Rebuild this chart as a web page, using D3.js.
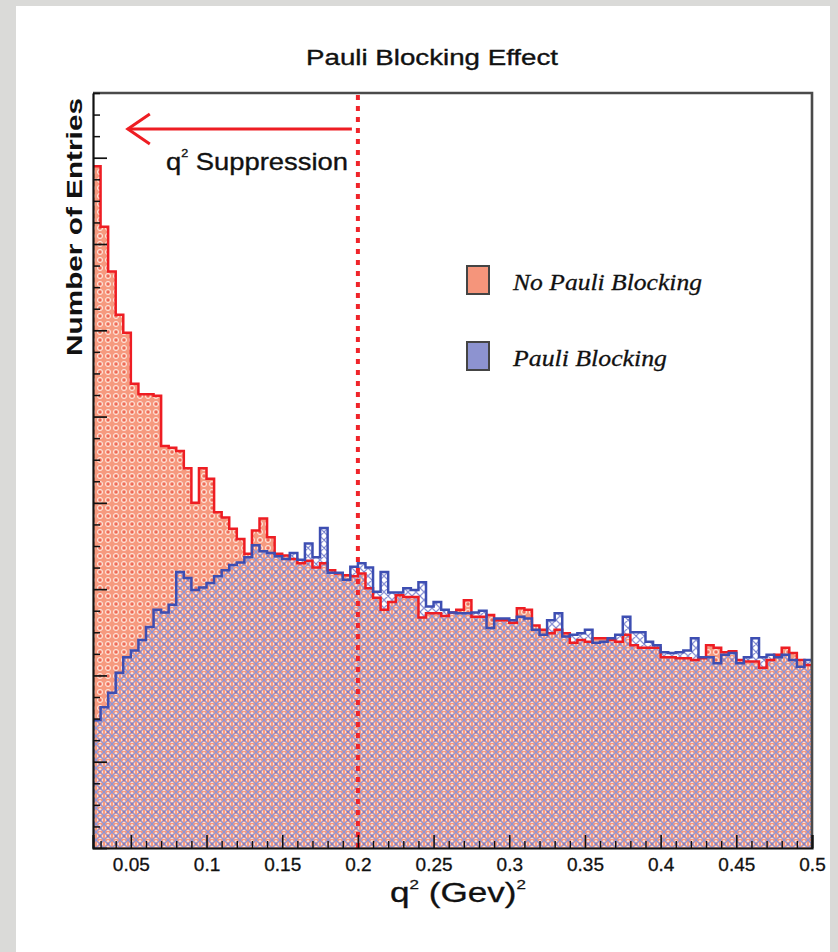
<!DOCTYPE html>
<html>
<head>
<meta charset="utf-8">
<script src="https://cdn.jsdelivr.net/npm/d3@7"></script>
<style>
  html, body { margin: 0; padding: 0; background: #dadad8; }
  svg { display: block; }
</style>
</head>
<body>
<svg id="chart" width="838" height="952"></svg>
<script>
// Histogram binning: 95 bins of width 0.005 from q^2 = 0.025 to 0.5
const binStart = 0.025;
const binWidth = 0.005;

// Entries per bin without Pauli blocking
const noPauliBlocking = [
  790, 720, 668, 618, 597, 538, 526, 526, 524, 466,
  464, 460, 440, 400, 440, 428, 389, 383, 370, 358,
  341, 368, 382, 360, 341, 339, 335, 330, 333, 325,
  330, 322, 318, 316, 315, 318, 301, 290, 276, 285,
  293, 291, 291, 267, 272, 272, 269, 273, 276, 287,
  268, 268, 270, 264, 264, 261, 278, 276, 258, 253,
  249, 253, 249, 238, 241, 239, 243, 243, 241, 239,
  247, 235, 232, 232, 232, 221, 221, 220, 220, 218,
  220, 235, 232, 227, 228, 218, 216, 216, 209, 218,
  224, 232, 226, 218, 212
];

// Entries per bin with Pauli blocking
const pauliBlocking = [
  148, 163, 180, 203, 221, 229, 241, 256, 276, 273,
  282, 320, 313, 299, 302, 307, 315, 322, 328, 331,
  337, 351, 344, 342, 338, 335, 342, 334, 353, 337,
  371, 319, 319, 311, 326, 330, 325, 297, 320, 296,
  296, 301, 299, 308, 280, 285, 276, 273, 272, 272,
  273, 275, 255, 266, 266, 264, 268, 266, 253, 247,
  264, 272, 245, 247, 249, 253, 238, 239, 243, 247,
  268, 250, 250, 239, 235, 227, 226, 227, 229, 243,
  221, 221, 214, 224, 226, 214, 221, 243, 221, 224,
  221, 224, 218, 210, 218
];

const xTickValues = [0.05, 0.1, 0.15, 0.2, 0.25, 0.3, 0.35, 0.4, 0.45, 0.5];
const xTickLabels = ["0.05", "0.1", "0.15", "0.2", "0.25", "0.3", "0.35", "0.4", "0.45", "0.5"];
const xDomain = [0.025, 0.5];
const yDomain = [0, 875];
const cutValue = 0.2;
const arrowEnd = 0.048;

const legendItems = [
  { label: "No Pauli Blocking", key: "red" },
  { label: "Pauli Blocking", key: "blue" }
];

const svg = d3.select("#chart");
const W = 838, H = 952;
const plot = { left: 93, right: 812, top: 93, bottom: 848 };

const colors = {
  redFill: "#f69a7f",
  redLine: "#ee1d23",
  redDot: "#e3262b",
  blueHatch: "#8e96d6",
  blueLine: "#3d4eb2",
  frame: "#4a4a4a"
};

// page background and white card
svg.append("rect").attr("width", W).attr("height", H).attr("fill", "#dadad8");
svg.append("rect").attr("x", 16).attr("y", 6).attr("width", 814).attr("height", 946).attr("fill", "#ffffff");

// fill patterns
const defs = svg.append("defs");
const rp = defs.append("pattern").attr("id", "redPat")
  .attr("patternUnits", "userSpaceOnUse").attr("width", 8).attr("height", 8);
rp.append("rect").attr("width", 8).attr("height", 8).attr("fill", colors.redFill);
rp.append("circle").attr("cx", 4).attr("cy", 4).attr("r", 2.6)
  .attr("fill", "none").attr("stroke", "#ffffff").attr("stroke-width", 0.9).attr("stroke-opacity", 0.8);
rp.append("rect").attr("x", 3.4).attr("y", 3.4).attr("width", 1.3).attr("height", 1.3).attr("fill", colors.redDot);

const bp = defs.append("pattern").attr("id", "bluePat")
  .attr("patternUnits", "userSpaceOnUse").attr("width", 8).attr("height", 8);
bp.append("path").attr("d", "M0,0 L8,8 M8,0 L0,8 M-1,7 L1,9 M7,-1 L9,1 M-1,1 L1,-1 M7,9 L9,7")
  .attr("stroke", colors.blueHatch).attr("stroke-width", 1.3).attr("fill", "none");
bp.append("rect").attr("x", 3.5).attr("y", 3.5).attr("width", 1).attr("height", 1).attr("fill", "#3d4eb2");
bp.append("rect").attr("x", 3.3).attr("y", 0).attr("width", 1.4).attr("height", 1).attr("fill", "#ffffff").attr("opacity", 0.8);

defs.append("clipPath").attr("id", "plotClip").append("rect")
  .attr("x", plot.left).attr("y", plot.top)
  .attr("width", plot.right - plot.left).attr("height", plot.bottom - plot.top);

// scales
const x = d3.scaleLinear().domain(xDomain).range([plot.left, plot.right]);
const y = d3.scaleLinear().domain(yDomain).range([plot.bottom, plot.top]);

function steps(values) {
  const pts = values.map((v, i) => ({ x: binStart + i * binWidth, v }));
  pts.push({ x: binStart + values.length * binWidth, v: values[values.length - 1] });
  return pts;
}

const area = d3.area().curve(d3.curveStepAfter)
  .x(d => x(d.x)).y0(y(0)).y1(d => y(d.v));
const line = d3.line().curve(d3.curveStepAfter)
  .x(d => x(d.x)).y(d => y(d.v));

const g = svg.append("g").attr("clip-path", "url(#plotClip)");
const redSteps = steps(noPauliBlocking);
const blueSteps = steps(pauliBlocking);

g.append("path").datum(redSteps).attr("d", area).attr("fill", "url(#redPat)");
g.append("path").datum(blueSteps).attr("d", area).attr("fill", "url(#bluePat)");
g.append("path").datum(redSteps).attr("d", line)
  .attr("fill", "none").attr("stroke", colors.redLine).attr("stroke-width", 2.5);
g.append("path").datum(blueSteps).attr("d", line)
  .attr("fill", "none").attr("stroke", colors.blueLine).attr("stroke-width", 2.5);

// cut line at q^2 = 0.2
svg.append("line")
  .attr("x1", x(cutValue)).attr("x2", x(cutValue))
  .attr("y1", plot.top + 2).attr("y2", plot.bottom)
  .attr("stroke", "#f0242a").attr("stroke-width", 4)
  .attr("stroke-dasharray", "5,6");

// frame: top and right
svg.append("path")
  .attr("d", `M${plot.left},${plot.top}H${plot.right}V${plot.bottom}`)
  .attr("fill", "none").attr("stroke", colors.frame).attr("stroke-width", 2.6);

// x axis with inward ticks
const xMinor = d3.range(0.03, 0.5001, 0.01).filter(v => !xTickValues.some(t => Math.abs(t - v) < 1e-6));
const xAxisG = svg.append("g").attr("transform", `translate(0,${plot.bottom})`);
xAxisG.call(d3.axisBottom(x).tickValues(xMinor).tickSize(-7).tickFormat(""))
  .call(s => s.select(".domain").remove());
xAxisG.selectAll(".tick line").attr("stroke", "#111").attr("stroke-width", 1.4);
const xMajorG = svg.append("g").attr("transform", `translate(0,${plot.bottom})`)
  .call(d3.axisBottom(x).tickValues(xTickValues).tickSize(-13).tickPadding(23)
    .tickFormat((d, i) => xTickLabels[i]));
xMajorG.select(".domain").attr("stroke", "#111").attr("stroke-width", 2.2);
xMajorG.selectAll(".tick line").attr("stroke", "#111").attr("stroke-width", 1.6);
xMajorG.selectAll(".tick text")
  .attr("font-family", "Liberation Sans, Arial, sans-serif")
  .attr("font-size", 19).attr("fill", "#111").attr("stroke", "#111").attr("stroke-width", 0.3)
  .attr("dy", "0");

// y axis with inward ticks, no labels
const yMinor = d3.range(0, 875.1, 25).filter(v => v % 100 !== 0);
const yMajor = d3.range(0, 875.1, 100);
const yMinorG = svg.append("g").attr("transform", `translate(${plot.left},0)`)
  .call(d3.axisRight(y).tickValues(yMinor).tickSize(7).tickFormat(""));
yMinorG.select(".domain").remove();
yMinorG.selectAll(".tick line").attr("stroke", "#111").attr("stroke-width", 1.5);
const yMajorG = svg.append("g").attr("transform", `translate(${plot.left},0)`)
  .call(d3.axisRight(y).tickValues(yMajor).tickSize(14).tickFormat("").tickSizeOuter(0));
yMajorG.select(".domain").attr("stroke", "#111").attr("stroke-width", 2.2);
yMajorG.selectAll(".tick line").attr("stroke", "#111").attr("stroke-width", 1.7);

// title
svg.append("text").attr("x", 432).attr("y", 65).attr("text-anchor", "middle")
  .attr("font-family", "Liberation Sans, Arial, sans-serif").attr("font-size", 22)
  .attr("fill", "#111").attr("stroke", "#111").attr("stroke-width", 0.35)
  .attr("textLength", 252).attr("lengthAdjust", "spacingAndGlyphs")
  .text("Pauli Blocking Effect");

// y axis title
svg.append("text")
  .attr("transform", `translate(82,227) rotate(-90)`)
  .attr("text-anchor", "middle")
  .attr("font-family", "Liberation Sans, Arial, sans-serif").attr("font-size", 22)
  .attr("font-weight", "bold").attr("fill", "#111")
  .attr("textLength", 258).attr("lengthAdjust", "spacingAndGlyphs")
  .text("Number of  Entries");

// x axis title
const xt = svg.append("text").attr("x", 458).attr("y", 902).attr("text-anchor", "middle")
  .attr("font-family", "Liberation Sans, Arial, sans-serif").attr("font-size", 27)
  .attr("fill", "#111").attr("stroke", "#111").attr("stroke-width", 0.3)
  .attr("textLength", 136).attr("lengthAdjust", "spacingAndGlyphs");
xt.append("tspan").text("q");
xt.append("tspan").attr("font-size", 13).attr("dy", -13).text("2");
xt.append("tspan").attr("dy", 13).text(" (Gev)");
xt.append("tspan").attr("font-size", 13).attr("dy", -13).text("2");

// suppression arrow
const arrowY = 129;
const tipX = x(arrowEnd);
svg.append("line").attr("x1", x(cutValue) - 6).attr("x2", tipX).attr("y1", arrowY).attr("y2", arrowY)
  .attr("stroke", colors.redLine).attr("stroke-width", 3);
svg.append("path")
  .attr("d", `M${tipX + 22},${arrowY - 15} L${tipX},${arrowY} L${tipX + 22},${arrowY + 15}`)
  .attr("fill", "none").attr("stroke", colors.redLine).attr("stroke-width", 3);

const st = svg.append("text").attr("x", 166).attr("y", 170)
  .attr("font-family", "Liberation Sans, Arial, sans-serif").attr("font-size", 24)
  .attr("fill", "#111").attr("stroke", "#111").attr("stroke-width", 0.35)
  .attr("textLength", 182).attr("lengthAdjust", "spacingAndGlyphs");
st.append("tspan").text("q");
st.append("tspan").attr("font-size", 11).attr("dy", -13).text("2");
st.append("tspan").attr("dy", 13).text(" Suppression");

// legend
const legend = svg.append("g");
legendItems.forEach((d, i) => {
  const ly = 266 + i * 76;
  legend.append("rect").attr("x", 467).attr("y", ly).attr("width", 22).attr("height", 28)
    .attr("fill", d.key === "red" ? "#f5957b" : "#8d93d0")
    .attr("stroke", "#444").attr("stroke-width", 2);
  legend.append("text").attr("x", 513).attr("y", ly + 24)
    .attr("font-family", "Liberation Serif, 'DejaVu Serif', serif")
    .attr("font-style", "italic").attr("font-size", 24).attr("fill", "#111")
    .attr("stroke", "#111").attr("stroke-width", 0.3)
    .attr("textLength", d.key === "red" ? 189 : 154).attr("lengthAdjust", "spacingAndGlyphs")
    .text(d.label);
});
</script>
</body>
</html>
